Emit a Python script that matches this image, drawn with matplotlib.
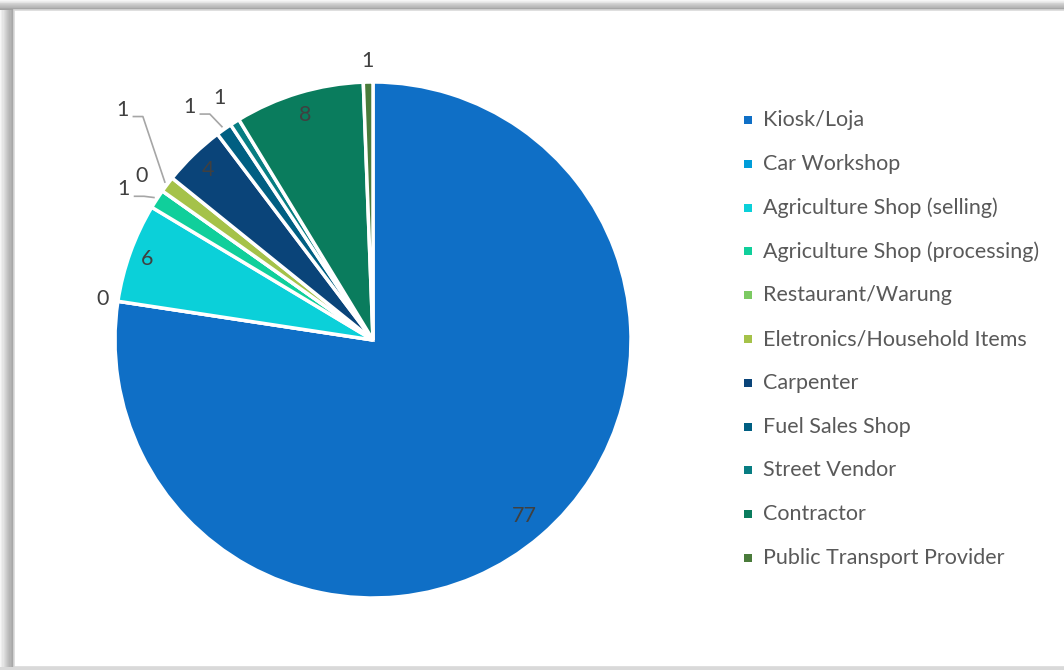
import numpy as np
import matplotlib.pyplot as plt
from matplotlib.patches import Rectangle

plt.rcParams['font.family'] = ['Lato', 'DejaVu Sans']

categories = ['Kiosk/Loja', 'Car Workshop', 'Agriculture Shop (selling)',
              'Agriculture Shop (processing)', 'Restaurant/Warung',
              'Eletronics/Household Items', 'Carpenter', 'Fuel Sales Shop',
              'Street Vendor', 'Contractor', 'Public Transport Provider']
shares = [77.4, 0.0, 6.2, 1.2, 0.0, 1.0, 3.9, 1.0, 0.6, 8.1, 0.6]
colors = ['#0F6FC6', '#009DD9', '#0BD0D9', '#10CF9B', '#7CCA62', '#A5C249',
          '#0A4479', '#005F82', '#077D82', '#0A7C5D', '#4A7B3B']

# label layout per slice: (radius factor, angle shift in deg, leader?)
label_pos = [(0.90, 0, False), (1.06, 0, False), (0.93, 0, False),
             (1.13, 2, True), (1.10, 0, False), (1.32, -5.5, True),
             (0.92, 0, False), (1.15, 3, True), (1.11, 0, False),
             (0.91, 0, False), (1.08, 0, False)]

# pixel-aligned axes: pie centre at (373, 340), radius 258
W, H, cx, cy, R = 1064, 670, 373, 340, 258
fig = plt.figure(figsize=(W / 100, H / 100), dpi=100)
ax = fig.add_axes([0, 0, 1, 1])

wedges, _ = ax.pie(shares, colors=colors, startangle=90, counterclock=False,
                   radius=1.0, wedgeprops=dict(edgecolor='white', linewidth=2.5))
ax.set_aspect('auto')
ax.set_xlim(-cx / R, (W - cx) / R)
ax.set_ylim((cy - H) / R, cy / R)
ax.axis('off')

for w, val, (rf, shift, leader) in zip(wedges, shares, label_pos):
    mid = np.deg2rad((w.theta1 + w.theta2) / 2 + shift)
    lx, ly = rf * np.cos(mid), rf * np.sin(mid)
    ax.text(lx, ly, '{:.0f}'.format(val), ha='center', va='center',
            fontsize=15.5, color='#404040')
    if leader:
        tm = np.deg2rad((w.theta1 + w.theta2) / 2)
        ex, ey = 1.01 * np.cos(tm), 1.01 * np.sin(tm)
        yl = ly - 0.027
        ax.plot([lx + 0.04, lx + 0.08, ex], [yl, yl, ey],
                color='#A6A6A6', lw=1.2, solid_capstyle='butt')

# legend
for i, (name, c) in enumerate(zip(categories, colors)):
    py = 120 + i * 43.8
    ax.add_patch(Rectangle(((744 - cx) / R, (cy - py - 4) / R), 8 / R, 8 / R,
                           facecolor=c, edgecolor='none'))
    ax.text((763 - cx) / R, (cy - py) / R, name, ha='left', va='center',
            fontsize=15.5, color='#595959')

# frame with soft shadow on the top and left, darkest next to the frame
for k in range(12):
    fig.patches.append(Rectangle((k * 14 / 12, 0), 14 - k * 14 / 12, H - 10,
                                 transform=None, facecolor='#000000',
                                 alpha=0.035, edgecolor='none'))
    fig.patches.append(Rectangle((0, H - 10), W, 10 - k * 10 / 12,
                                 transform=None, facecolor='#000000',
                                 alpha=0.035, edgecolor='none'))
fig.patches.append(Rectangle((0, 0), W, 3, transform=None,
                             facecolor='#D9D9D9', edgecolor='none'))
fig.patches.append(Rectangle((14, 3), W, H - 13, transform=None,
                             facecolor='none', edgecolor='#D9D9D9', lw=1.2))

fig.savefig('out.png', dpi=100)
